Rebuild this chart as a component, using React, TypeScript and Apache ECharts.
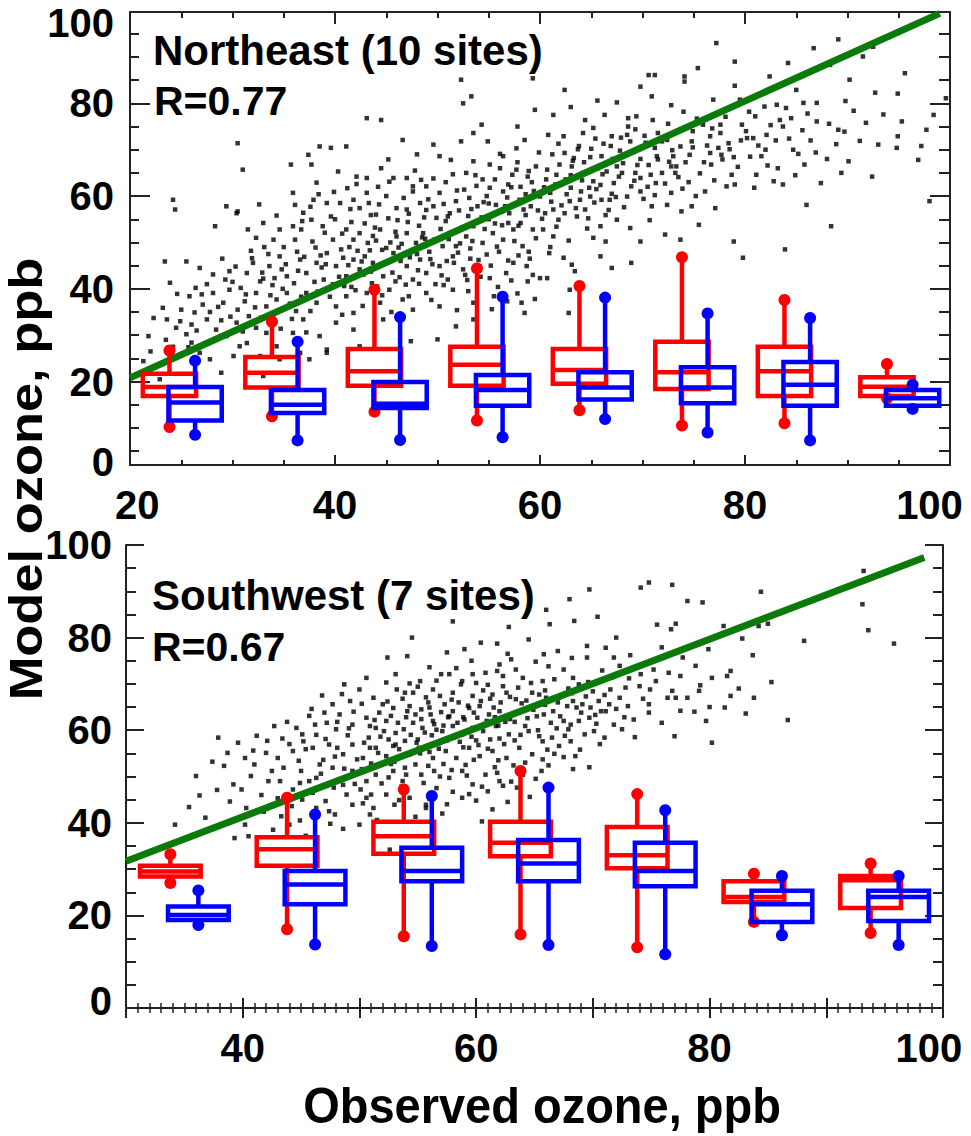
import React, { useEffect, useRef } from "react";
import * as echarts from "echarts";

// ---------- DATA ----------
// Northeast panel: scatter of (observed, model) ozone, ppb
const NE_POINTS: number[][] = [
  [52.3,85.1],[53.3,81.5],[52.5,80.0],[59.3,85.4],[59.5,78.6],
  [43.1,76.8],[44.5,76.4],[54.3,75.4],[53.5,73.6],[57.8,75.0],[58.5,72.1],
  [30.5,71.4],[46.6,72.1],[38.5,70.7],[39.6,70.4],[41.1,70.7],[49.6,71.1],[52.3,71.8],[54.9,71.8],[56.4,68.6],[57.7,70.3],[50.2,68.6],[51.3,67.8],
  [31.0,65.7],[35.7,66.8],[37.7,66.8],[37.4,68.9],[40.3,65.3],[42.1,64.2],[43.1,63.9],[44.5,66.0],[45.7,63.9],[47.0,63.9],[48.4,63.5],[52.8,65.0],[53.5,67.5],[55.1,66.8],[56.1,66.0],[57.7,65.7],[58.8,64.2],[59.6,66.4],[48.9,62.1],[47.6,62.1],[56.9,62.5],
  [24.2,59.2],[24.4,57.1],[29.4,57.8],[30.5,56.7],[35.9,60.7],[36.1,58.1],[37.9,59.2],[39.2,58.5],[40.5,58.5],[41.8,59.2],[42.4,57.4],[43.1,60.7],[44.0,56.0],[45.0,60.0],[46.0,57.4],[47.0,57.1],[47.6,61.0],[48.3,58.5],[49.6,57.8],[50.2,60.7],[51.2,56.3],[51.8,58.9],[53.1,59.6],[53.9,57.8],[54.8,60.0],[55.7,58.1],[56.4,61.0],[57.0,56.3],[58.0,59.2],[59.1,57.8],
  [28.3,53.5],[30.4,56.3],[33.0,54.2],[31.5,52.8],[32.3,51.0],[34.0,50.6],[34.6,52.8],[35.9,53.5],[36.7,52.8],[37.7,54.9],[38.8,53.5],[39.8,50.6],[41.1,52.8],[41.8,50.6],[42.4,52.0],[43.2,49.9],[44.4,52.8],[45.0,48.8],[46.0,51.3],[47.0,52.0],[47.9,49.9],[48.6,52.0],[49.7,50.6],[50.5,49.2],[51.2,52.0],[51.8,49.2],[52.8,51.3],[53.5,53.5],[54.4,49.9],[55.4,52.0],[56.4,50.6],[57.4,52.8],[58.3,49.2],[59.3,52.8],
  [23.4,45.9],[25.5,45.9],[23.9,41.3],[26.8,44.5],[28.1,43.1],[29.7,43.8],[31.4,43.4],[32.0,45.6],[32.7,41.6],[33.6,44.9],[34.6,47.0],[35.3,42.7],[36.6,46.3],[37.2,43.4],[38.2,45.6],[39.2,47.7],[40.1,44.9],[41.1,42.7],[41.8,46.3],[42.4,44.2],[43.7,45.6],[44.7,42.7],[45.7,47.7],[47.0,44.9],[47.6,42.0],[48.3,46.3],[48.9,43.4],[50.2,44.9],[51.0,42.0],[51.5,47.0],[52.5,44.2],[54.1,44.9],[55.1,42.3],[56.7,43.4],[57.4,45.6],[58.7,44.9],[58.8,41.6],
  [22.3,33.7],[23.2,35.9],[25.0,35.5],[25.8,38.4],[27.1,36.6],[28.1,39.1],[29.1,37.0],[29.7,39.8],[30.5,35.5],[31.2,37.3],[32.3,39.1],[33.3,36.2],[34.3,37.7],[35.3,39.1],[36.2,35.2],[37.2,39.1],[38.2,37.0],[39.2,39.8],[40.1,36.2],[41.1,38.4],[41.8,34.8],[43.1,39.1],[44.4,37.0],[45.3,39.8],[46.6,37.7],[47.6,35.5],[48.9,39.1],[50.2,36.2],[51.5,39.8],[53.5,37.0],
  [21.8,29.8],[23.6,33.4],[24.9,33.0],[26.0,32.3],[27.5,33.4],[28.4,31.2],[29.4,29.8],[30.4,32.7],[31.4,28.3],[32.3,31.6],[33.3,30.5],[34.3,27.6],[35.9,30.5],[36.9,33.4],[38.5,29.8],[39.2,26.9],[40.1,32.7],[41.8,31.2],[42.4,27.6],[44.7,33.4],[47.4,28.7],[50.0,29.1],[51.8,31.9],[53.5,33.4],
  [22.9,20.5],[26.0,28.4],[26.8,26.2],[27.8,24.8],[28.9,21.9],[30.1,25.5],[30.7,27.6],[32.7,25.5],[33.0,21.2],[34.6,24.8],[36.6,26.2],[37.5,24.8],[39.2,26.2],
  [31.8,48.2],[33.5,47.5],[35.0,49.0],[36.3,48.0],[37.8,50.2],[38.6,47.2],[40.6,48.5],[42.9,47.0],[44.0,50.4],[46.4,46.0],[48.0,47.5],[49.2,48.0],[50.9,46.0],[52.0,47.8],[53.2,46.5],[54.8,47.4],[56.0,48.0],[57.9,47.2],[59.0,46.5],[29.0,46.5],
  [27.5,41.0],[30.0,41.5],[33.9,40.8],[36.0,41.2],[38.9,42.0],[40.9,40.6],[43.6,41.2],[45.9,41.6],[49.8,41.0],[52.9,41.9],[55.9,40.4],[57.8,39.0],[59.5,37.8],[55.3,35.6],[56.8,37.3],[58.5,34.8],[26.4,40.2],[24.6,38.9],
  [45.2,55.2],[48.7,55.4],[50.8,54.6],[53.0,55.7],[55.0,55.0],[56.9,54.2],[58.6,55.9],[39.6,55.6],[41.6,54.4],[43.5,55.9],[47.1,54.4],[36.9,56.4],[34.3,55.8],[32.6,58.2],[44.2,62.0],[50.8,63.0],[54.4,63.6],[58.1,62.0],[41.2,61.7],[38.2,62.9],[45.2,67.9],[48.0,69.0],
  [77.2,93.0],[79.0,89.0],[70.6,86.1],[71.2,86.1],[74.1,85.8],[74.1,84.7],[62.4,82.9],[69.8,83.6],[70.9,81.5],[82.4,85.8],[84.2,88.7],[86.7,91.9],[89.1,93.8],[88.3,88.3],[91.5,90.1],[92.5,92.2],[90.2,85.1],[92.7,82.3],[94.9,82.1],
  [76.9,80.8],[79.5,80.8],[81.9,79.3],[83.1,79.7],[85.0,82.9],[85.7,80.1],[87.0,80.1],[99.6,81.1],[98.4,77.5],[95.3,76.1],[61.3,77.5],[64.4,76.4],[66.3,77.5],[68.6,76.8],[69.4,77.2],[71.0,76.4],[74.0,78.2],[75.9,75.4],[77.6,75.4],[79.7,75.4],[83.4,76.4],[84.5,76.8],[83.7,75.0],[87.0,76.1],[89.1,74.3],[89.7,73.9],[97.7,74.3],
  [60.8,73.2],[62.3,72.9],[64.2,73.6],[65.2,74.7],[67.0,72.9],[68.5,73.2],[68.8,71.8],[71.5,73.6],[72.4,72.1],[73.7,70.7],[74.8,71.8],[76.6,72.9],[77.6,73.6],[78.4,71.4],[80.2,72.5],[80.8,72.5],[82.1,73.2],[84.7,70.0],[93.0,71.1],[94.9,72.9],[94.8,70.4],[96.9,67.8],
  [62.4,69.3],[63.3,68.2],[66.0,68.6],[67.5,66.4],[71.2,70.4],[71.4,68.6],[73.0,68.6],[73.3,66.4],[76.6,69.3],[77.7,68.9],[76.7,66.8],[78.7,64.6],[81.1,64.6],[82.8,63.2],[83.7,62.5],[89.4,65.0],[85.8,66.8],
  [60.7,65.7],[61.6,64.6],[63.1,66.4],[64.2,65.0],[65.2,63.2],[66.5,65.3],[68.0,65.0],[69.3,65.0],[69.8,63.9],[71.9,65.0],[72.8,66.4],[73.2,65.0],[76.1,61.0],[78.2,62.1],[79.0,62.5],
  [60.0,59.9],[61.0,60.7],[62.9,58.9],[63.9,59.2],[64.9,59.9],[66.0,59.2],[66.8,59.2],[68.5,59.9],[69.8,61.0],[70.9,57.8],[72.4,58.1],[72.8,60.7],[73.8,56.7],[74.8,57.8],[77.1,57.4],[86.0,58.1],[98.0,58.9],
  [60.5,56.3],[61.8,54.9],[62.4,56.3],[63.6,55.6],[64.4,57.1],[65.9,53.5],[67.5,54.9],[68.8,53.1],[69.8,50.2],[72.2,51.7],[73.7,50.6],[78.9,50.2],[79.8,46.7],[88.4,53.5],[83.9,48.5],
  [60.3,52.8],[61.3,51.3],[62.3,46.7],[63.1,45.2],[65.2,51.0],[65.9,47.0],[67.0,44.5],[68.9,45.6],[63.4,43.8],[62.9,39.8],[60.0,42.3],[60.7,42.3],[62.8,34.8],
  [61.5,62.5],[63.0,61.8],[65.5,61.5],[67.2,62.8],[70.5,62.0],[71.2,60.2],[74.5,63.0],[75.2,60.0],[61.2,69.0],[65.0,70.2],[67.8,69.8],[69.8,68.0],[70.3,71.5],[74.9,74.0],[72.5,75.6],[63.8,70.8],[66.7,57.0],[64.6,53.0],[61.0,49.0],[66.4,50.2],[70.7,54.8],[75.5,53.8],[80.5,68.5],[82.0,70.0],[86.4,72.0],[88.0,68.0],[90.6,78.4],[81.0,77.2],[79.0,83.8],[75.4,87.6],[67.5,80.2],[72.8,79.6],[65.6,80.6],[63.0,79.2],
  [30.8,40.2],[31.6,34.1],[32.9,43.5],[33.7,38.6],[34.8,44.2],[35.6,36.8],[36.4,43.9],[37.0,37.8],[38.0,41.5],[38.7,44.6],[39.5,38.3],[40.4,42.6],[41.3,45.1],[42.0,39.7],[42.8,43.1],[43.4,48.3],[44.1,40.5],[44.9,45.6],[45.6,43.5],[46.2,48.9],[46.9,40.9],[47.3,46.8],[48.1,44.0],[48.8,50.8],[49.5,45.3],[50.4,42.9],[50.7,51.4],[51.6,45.6],[52.2,49.8],[52.7,43.0],[53.4,50.3],[54.0,46.2],[54.6,52.9],[55.2,45.0],[55.8,49.1],[56.3,53.7],[56.9,46.1],[57.5,50.3],[58.1,54.2],[58.9,48.0],[59.6,50.9],[60.2,55.1],[60.9,47.7],[61.6,53.4],[62.1,58.0],[62.8,50.4],[63.5,57.4],[64.0,61.0],[64.7,55.2],[65.3,58.6],[65.9,62.4],[66.4,55.9],[67.0,60.5],[67.7,64.2],[68.2,57.6],[68.9,62.1],[69.5,66.7],[70.1,59.4],[70.8,64.6],[71.5,67.9],[72.2,62.7],[72.9,69.9],[73.5,64.1],[74.2,67.3],[74.9,70.5],[75.6,64.9],[76.3,70.9],[77.0,63.4],[77.8,67.9],[78.5,70.1],[79.3,66.3],[80.1,74.0],[80.9,61.8],[81.6,68.6],[82.5,75.3],[83.2,66.0],[84.3,72.4],[85.2,69.1],[86.1,77.8],[87.4,62.8],[88.9,71.2],[90.1,67.5],[91.8,75.8],[92.4,64.2],[95.6,86.5],[97.2,70.8],
  [38.1,48.9],[39.0,52.1],[40.0,55.0],[40.8,46.7],[41.5,57.2],[42.2,48.2],[42.9,54.1],[43.7,51.4],[44.3,58.2],[45.4,50.0],[46.1,54.8],[46.7,59.6],[47.4,48.0],[48.2,53.6],[48.9,57.0],[49.3,46.4],[49.9,55.3],[50.6,58.3],[51.1,50.7],[51.9,61.2],[52.4,53.2],[53.3,57.2],[53.8,62.2],[54.3,55.4],[55.0,58.4],[55.6,63.6],[56.2,56.6],[56.8,59.7],[57.3,64.6],[57.9,53.6],[58.6,60.4],[59.2,63.0],[59.8,56.9],[60.4,61.9],[61.1,58.8],[61.9,66.8],[62.5,63.6],[63.2,67.6],[64.1,63.4],[64.9,68.4],[65.6,66.0],[66.2,71.3],[67.1,68.0],[67.9,72.6],[68.7,69.4],[69.3,74.4],[70.2,73.0],[35.2,45.3],[36.1,50.6],[37.0,46.9],[33.1,49.0],[34.1,42.3],[31.9,46.6],[30.3,44.8],[29.3,42.0],[28.6,36.1],[27.0,38.8],[26.3,34.9],[25.5,30.2],[24.2,27.5],[22.0,26.5],[21.3,24.4],[23.5,29.0],
  [36.8,54.6],[37.6,57.7],[38.4,60.4],[39.1,45.3],[39.9,60.9],[40.7,51.9],[41.4,49.0],[42.1,62.6],[42.6,45.9],[43.3,58.5],[43.9,53.2],[44.6,48.4],[45.3,63.1],[45.9,52.3],[46.5,49.7],[47.2,56.2],[47.8,65.5],[48.5,51.1],[49.1,59.3],[49.6,63.8],[50.3,52.9],[51.0,55.6],[51.5,64.7],[52.1,56.9],[52.6,61.4],[53.2,48.7],[53.7,64.5],[54.5,58.7],[55.1,61.8],[55.6,54.1],[56.1,69.1],[56.6,57.8],[57.2,61.9],[57.8,67.3],[58.4,57.1],[58.9,65.4],[59.4,61.1],[59.9,69.4],[60.6,63.6],[61.3,57.1],[61.8,71.3],[62.6,60.4],[63.0,64.5],[63.7,70.1],[64.3,67.3],[64.8,61.8],[65.4,72.4],[66.1,64.7],[66.9,70.8],[67.4,59.8],[68.1,67.1],[68.6,75.0],[69.2,63.3],[69.9,70.6],[70.6,66.7],[71.3,62.8],[71.9,71.8],[72.6,67.4],[73.3,73.8],[73.9,61.6],[74.6,68.9],[75.3,76.7],[76.0,67.3],[76.8,74.6],[77.4,70.4],[78.1,77.1],[78.9,68.4],[79.6,72.0],[80.4,78.2],[81.3,70.9],[82.2,66.6],[83.0,72.0],[84.0,79.0],[84.9,64.5],[85.6,74.2],[86.9,69.4],[88.2,75.6],[89.8,80.5],[91.2,71.9],[93.5,77.6],
  [31.3,38.8],[32.2,36.0],[33.0,42.2],[34.0,34.5],[34.9,40.0],[35.8,33.5],[36.7,38.3],[37.6,35.2],[38.3,39.4],[39.8,41.0],[40.7,34.4],[41.6,40.4],[42.7,36.3],[43.5,43.7],[44.6,38.6],[45.5,35.0],[46.3,42.5],[47.2,38.4],[48.2,41.1],[49.4,37.6],[50.6,40.8],[51.9,35.4],[53.0,39.5],[54.2,42.6],[55.5,38.4],[57.2,41.8],[58.2,37.0],[59.3,43.0],[27.8,35.0],[28.9,33.2],[26.5,31.0],[29.8,34.0],[31.0,30.8],[32.8,33.8],[34.7,31.4],[37.2,30.6],[24.5,31.6],[25.7,27.4]
];

// Southwest panel scatter
const SW_POINTS: number[][] = [
  [60.4,78.9],[61.8,78.7],[64.5,79.6],[52.4,75.7],[54.1,76.0],[56.0,73.6],[62.0,74.2],[63.0,75.3],[63.4,73.1],[50.6,71.3],[48.7,69.9],[50.0,68.8],[52.3,70.3],[53.1,72.1],[57.0,72.1],[57.7,72.1],[58.8,70.6],[59.7,72.1],[60.8,72.4],[62.3,71.7],[64.0,71.3],
  [53.9,68.1],[54.6,68.1],[56.3,68.8],[56.9,67.4],[58.0,68.1],[58.7,69.9],[59.7,67.4],[60.4,66.3],[61.4,67.7],[62.6,68.1],[63.4,66.7],[64.8,68.1],[47.7,65.6],[49.2,66.3],[51.2,67.0],[52.0,65.6],[52.9,64.8],[54.3,65.2],[55.3,64.5],[56.1,63.4],[57.3,65.6],[58.0,64.1],[59.4,64.8],[60.3,65.2],[61.1,63.4],[62.0,64.1],[63.7,64.1],
  [45.7,63.1],[44.6,60.5],[47.2,61.6],[48.3,63.4],[49.4,61.2],[50.6,62.7],[51.4,60.5],[52.3,62.0],[53.1,59.4],[54.6,61.6],[55.4,60.5],[56.3,62.0],[57.1,59.8],[58.0,60.9],[58.8,59.1],[59.7,60.5],[60.6,59.8],[61.7,60.9],[62.8,59.1],[64.5,59.8],
  [37.9,58.4],[42.0,55.1],[44.3,55.5],[45.2,57.6],[46.0,56.2],[47.4,56.9],[48.6,54.8],[49.4,56.9],[50.3,54.0],[51.4,56.2],[52.3,54.4],[53.1,56.9],[54.3,54.8],[55.1,56.2],[56.3,54.0],[57.4,55.5],[58.3,54.0],[59.4,56.2],[60.3,54.4],[61.4,55.5],[62.6,54.0],[63.7,56.2],[64.8,54.8],
  [40.2,54.0],[36.0,50.1],[42.5,51.2],[43.5,51.9],[45.0,51.2],[46.3,49.7],[47.7,51.9],[48.3,49.3],[49.4,51.2],[50.6,49.0],[51.4,50.4],[52.9,51.2],[53.7,49.0],[55.3,50.4],[56.4,51.2],[57.7,49.7],[58.8,51.2],[59.7,48.3],[60.8,50.4],[62.0,49.0],[64.0,50.4],
  [39.2,48.3],[39.9,47.2],[40.7,50.1],[42.2,49.0],[43.2,49.0],[44.3,47.2],[45.7,49.0],[46.3,43.2],[47.4,42.5],[48.9,46.1],[49.4,43.9],[50.6,45.4],[51.2,43.2],[52.3,46.1],[53.0,43.9],[54.3,45.4],[55.7,43.9],[58.8,45.4],[61.4,42.9],
  [40.3,43.2],[36.8,41.1],[34.2,39.6],[40.2,39.6],[39.3,36.7],[40.5,37.1],[43.3,41.4],[44.0,39.6],[46.3,35.6],[47.9,41.8],[50.0,39.6],[52.6,34.2],[55.7,43.2],
  [55.0,58.0],[56.8,57.2],[58.6,57.5],[60.0,57.8],[61.2,58.0],[62.4,57.0],[63.3,61.8],[57.6,62.8],[55.9,66.0],[54.0,62.8],[52.5,58.0],[50.8,58.4],[49.0,58.9],[51.7,63.8],[53.7,66.8],[60.9,62.0],[62.1,66.0],[59.0,62.3],[56.2,58.9],[54.8,52.6],[53.0,53.2],[51.0,52.8],[57.2,52.7],[59.1,52.5],[61.6,52.0],[63.2,52.4],
  [46.9,53.6],[44.8,53.4],[48.0,60.2],[46.3,59.0],[43.4,58.2],[41.0,52.6],[38.4,52.3],[41.6,46.0],[45.1,45.0],[47.8,47.6],[50.1,47.2],[53.6,47.8],[56.6,47.5],[61.0,46.8],[63.5,47.6],[57.5,44.0],[60.0,44.8],[62.7,44.5],[48.5,67.8],[46.8,67.5],[55.2,70.6],[61.0,69.8],[64.4,62.6],[59.6,75.0],[57.5,76.8],
  [69.7,90.4],[68.0,88.3],[74.1,90.8],[74.8,91.9],[76.8,91.4],[78.1,87.9],[79.4,87.6],[84.4,89.9],[93.2,94.4],[93.1,87.2],[93.6,81.6],[95.8,78.7],[66.3,82.9],[68.4,83.6],[76.7,81.8],[77.1,83.0],[81.2,82.5],[84.2,82.5],
  [69.5,78.2],[71.1,77.8],[67.0,77.1],[65.8,76.4],[69.5,75.7],[71.8,75.7],[77.7,75.7],[83.7,76.2],[72.3,73.9],[67.5,73.1],[74.1,72.1],[75.2,73.1],[76.5,72.4],[77.5,71.7],[78.8,73.9],[80.2,71.3],[81.5,71.7],[81.8,72.8],
  [65.7,70.6],[66.7,71.0],[68.3,71.3],[68.8,69.9],[71.5,68.8],[72.8,69.2],[74.0,69.5],[74.9,68.8],[76.8,68.5],[77.1,67.0],[78.1,67.0],[79.1,68.5],[81.8,67.4],[83.8,67.0],[76.4,67.0],
  [65.4,67.7],[66.0,67.0],[67.1,67.0],[68.3,66.3],[69.1,65.6],[69.8,64.9],[70.5,66.3],[71.1,64.1],[72.3,67.0],[73.0,65.2],[74.8,65.6],[74.8,63.8],[78.7,64.0],[80.0,65.0],[79.7,62.0],[83.1,63.6],
  [65.8,63.4],[66.6,64.1],[67.5,62.0],[68.1,61.2],[68.8,62.0],[69.7,62.7],[70.7,64.1],[72.5,60.2],[65.4,58.7],[65.7,57.6],[66.1,55.8],[68.1,57.6],[69.3,59.1],[70.1,59.8],[71.0,58.4],[80.2,57.3],
  [65.7,53.7],[67.5,54.2],[68.5,54.4],[69.7,52.0],[65.6,51.2],[66.9,60.4],[67.8,65.2],[70.0,68.4],[71.6,71.4],[73.5,62.3],[66.2,73.8],[67.9,69.0],
  [44.9,48.6],[45.4,55.9],[46.6,52.6],[47.1,58.1],[47.9,54.3],[48.7,51.7],[49.1,60.4],[49.8,53.7],[50.4,57.3],[50.9,60.9],[51.6,55.1],[52.1,59.8],[52.7,63.1],[53.4,55.9],[53.8,60.2],[54.1,64.1],[54.9,57.3],[55.3,62.4],[55.7,67.1],[56.0,55.3],[56.6,60.1],[57.0,63.9],[57.5,57.8],[57.9,66.6],[58.4,61.6],[58.9,56.3],[59.3,65.3],[59.6,58.6],[60.1,62.7],[60.6,68.6],[61.0,56.0],[61.5,64.9],[61.9,61.0],[62.3,69.5],[62.9,62.4],[63.3,57.8],[63.9,65.8],[64.2,60.9],[64.7,70.2],[65.2,63.0],[65.9,68.6],[66.4,61.6],[67.0,66.0],[67.6,58.8],[68.2,68.0],[69.0,63.8],[69.6,70.4],[70.3,61.4],[71.0,67.6],[72.0,64.6],[73.1,71.2],[74.3,66.8],[75.4,70.6],[77.5,64.2],[79.2,69.7],[81.3,64.9],[82.5,69.0],[85.3,70.4],[86.7,62.2],[88.1,79.3],[85.0,83.0],[72.0,80.0],[66.0,86.0],[58.0,83.5],[54.5,80.0],
  [43.0,45.3],[44.2,43.6],[46.0,46.5],[47.1,44.7],[48.6,48.2],[49.8,50.7],[50.3,44.2],[51.9,48.5],[52.7,52.7],[53.9,51.9],[55.5,48.6],[56.9,50.0],[58.0,46.7],[59.2,50.2],[60.5,47.8],[61.8,50.8],[63.0,48.9],[64.2,53.0],[65.1,49.5],[66.2,52.4],[67.1,56.6],[68.9,55.8],[70.6,57.0],[71.8,61.2],[73.6,58.5],[75.9,61.6],[77.0,58.7],[42.7,60.9],[41.2,58.8],[39.6,57.3],[38.7,55.1],[37.4,53.2],[36.3,45.9],[35.4,43.4],[37.8,47.1],[38.9,44.6],[41.8,42.4],[42.6,38.5],[44.9,40.5],[48.6,38.7],[51.5,40.6],[54.8,41.3],[57.1,42.0],[60.5,40.3],
  [50.2,51.6],[50.9,56.2],[51.3,62.2],[51.8,58.6],[52.4,66.2],[52.9,56.6],[53.3,61.6],[53.9,57.7],[54.4,59.0],[54.8,63.4],[55.2,55.0],[55.6,59.5],[56.0,64.9],[56.4,61.3],[56.8,56.0],[57.2,61.0],[57.7,63.0],[58.1,58.4],[58.5,66.0],[58.9,62.8],[59.2,59.6],[59.8,63.8],[60.2,56.8],[60.7,61.2],[61.2,66.8],[61.6,62.8],[62.0,58.2],[62.5,61.8],[62.9,67.2],[63.4,63.6],[63.8,59.0],[64.3,66.4],[64.9,64.4],[65.3,60.0],[65.9,65.5],[66.5,58.4],[67.2,63.0],[67.9,60.2],[68.6,64.9],[69.4,67.3],[70.2,63.3],[71.4,65.6],[72.7,62.8],[53.2,68.8],[55.0,69.4],[56.6,70.7],[58.3,73.4],[60.0,70.2],[61.8,72.8],[63.6,69.2],
  [49.5,64.0],[48.1,61.8],[47.0,63.8],[46.2,61.2],[45.1,59.1],[44.0,57.0],[43.0,54.0],[42.1,57.7],[40.9,55.6],[46.7,50.6],[48.1,56.2],[49.6,48.4],[51.0,46.1],[52.5,49.8],[54.0,50.4],[55.9,52.3],[57.9,51.4],[59.8,53.6],[61.9,53.5],[63.9,51.2],[66.7,54.9],[68.3,51.6],[50.9,41.8],[47.5,39.8],[45.4,37.2],[53.4,44.9],[56.0,45.2],[59.4,46.2],[62.3,48.0],[64.6,45.6],[43.8,61.8],[45.9,64.6],[50.2,65.7],[54.3,70.1],[59.0,77.5],[62.7,76.5],[65.1,74.8],[68.2,75.6],[70.8,72.9],[73.2,76.2],[75.9,77.9],[79.9,77.5],[82.8,79.8],[75.5,82.8],[70.4,84.5],[62.8,82.3]
];

// Box-and-whisker summaries: [x, low, q1, median, q3, high]
const NE_OBS_BOXES: number[][] = [
  [23.85,10.2,16.9,18.8,21.7,26.7],
  [33.85,12.5,18.7,21.9,25.3,32.9],
  [43.85,13.5,19.1,22.2,27.0,39.8],
  [53.85,11.6,19.1,23.6,27.5,44.4],
  [63.85,13.8,19.5,22.5,27.0,40.6],
  [73.85,10.5,18.4,22.0,28.6,46.8],
  [83.85,11.0,16.9,22.2,27.5,37.6],
  [93.85,16.4,16.9,18.9,20.9,23.8]
];
const NE_MODEL_BOXES: number[][] = [
  [26.35,8.5,11.6,15.5,18.8,24.5],
  [36.35,7.3,13.2,15.0,18.2,28.6],
  [46.35,7.4,14.3,15.2,19.9,33.9],
  [56.35,8.0,14.8,18.2,21.4,38.3],
  [66.35,11.9,16.1,18.7,22.0,38.1],
  [76.35,9.0,15.3,18.7,23.1,34.7],
  [86.35,7.3,14.8,19.3,24.2,33.7],
  [96.35,14.1,14.8,16.4,18.2,19.3]
];
const SW_OBS_BOXES: number[][] = [
  [33.8,27.0,28.4,29.5,30.7,33.2],
  [43.8,17.0,30.7,34.3,36.9,45.4],
  [53.8,15.5,33.3,37.1,40.2,47.2],
  [63.8,15.9,32.8,35.7,40.2,51.2],
  [73.8,13.1,30.2,33.0,39.1,46.2],
  [83.8,18.6,22.9,24.0,27.4,29.0],
  [93.8,16.2,21.6,27.6,28.5,31.2]
];
const SW_MODEL_BOXES: number[][] = [
  [36.2,17.9,19.0,20.1,21.9,25.4],
  [46.2,13.7,22.4,26.7,29.6,41.8],
  [56.2,13.4,27.4,29.6,34.6,45.8],
  [66.2,13.6,27.4,31.2,36.3,47.6],
  [76.2,11.6,26.3,29.6,35.7,42.7],
  [86.2,15.7,18.6,22.4,25.3,28.5],
  [96.2,13.6,18.8,24.0,25.3,28.5]
];

// Reference lines
const NE_LINE: number[][] = [[20, 20.8], [99.0, 99.4]];
const SW_LINE: number[][] = [[30, 31.7], [98.4, 97.3]];

// Tick labels
const NE_X_LABELS = [20, 40, 60, 80, 100];
const NE_Y_LABELS = [0, 20, 40, 60, 80, 100];
const SW_X_LABELS = [40, 60, 80, 100];
const SW_Y_LABELS = [0, 20, 40, 60, 80, 100];

const PANEL_TEXT = [
  { title: "Northeast (10 sites)", r: "R=0.77" },
  { title: "Southwest (7 sites)", r: "R=0.67" }
];

// ---------- STYLE ----------
const FONT = '"Liberation Sans", Arial, Helvetica, sans-serif';
const AXIS_COLOR = "#222";
const RED = "#ff0000";
const BLUE = "#0000ff";
const GREEN = "#0b7a0b";
const BOX_W = 5.2; // box width in data units

const labelStyle = {
  fontSize: 40,
  fontWeight: "bold" as const,
  fontFamily: FONT,
  color: "#000"
};
const snap20 = (v: number) => String(Math.round(v / 20) * 20);

function boxRenderer(color: string) {
  return (_params: any, api: any) => {
    const x = api.value(0);
    const lo = api.value(1), q1 = api.value(2), med = api.value(3), q3 = api.value(4), hi = api.value(5);
    const tl = api.coord([x - BOX_W / 2, q3]);
    const br = api.coord([x + BOX_W / 2, q1]);
    const ml = api.coord([x - BOX_W / 2, med]);
    const mr = api.coord([x + BOX_W / 2, med]);
    const pHi = api.coord([x, hi]);
    const pLo = api.coord([x, lo]);
    const pQ3 = api.coord([x, q3]);
    const pQ1 = api.coord([x, q1]);
    const stroke = { stroke: color, lineWidth: 4.5, fill: "none" };
    return {
      type: "group",
      children: [
        { type: "line", shape: { x1: pHi[0], y1: pHi[1], x2: pQ3[0], y2: pQ3[1] }, style: stroke },
        { type: "line", shape: { x1: pQ1[0], y1: pQ1[1], x2: pLo[0], y2: pLo[1] }, style: stroke },
        { type: "rect", shape: { x: tl[0], y: tl[1], width: br[0] - tl[0], height: br[1] - tl[1] }, style: stroke },
        { type: "line", shape: { x1: ml[0], y1: ml[1], x2: mr[0], y2: mr[1] }, style: stroke },
        { type: "circle", shape: { cx: pHi[0], cy: pHi[1], r: 6 }, style: { fill: color } },
        { type: "circle", shape: { cx: pLo[0], cy: pLo[1], r: 6 }, style: { fill: color } }
      ]
    };
  };
}

function steps(from: number, to: number, step: number, skipEvery: number) {
  const out: number[] = [];
  for (let i = 0; from + i * step <= to + 1e-9; i++) {
    const v = Math.round((from + i * step) * 100) / 100;
    if (Math.abs(v / skipEvery - Math.round(v / skipEvery)) > 1e-6) out.push(v);
  }
  return out;
}

function buildOption() {
  const lineAx = { show: true, lineStyle: { color: AXIS_COLOR, width: 2 } };
  const tickLine = { color: AXIS_COLOR, width: 2 };
  const thinTick = { color: AXIS_COLOR, width: 1.5 };
  const hidden = { show: false };

  const neYMajor = NE_Y_LABELS.filter((v) => v > 0 && v < 100);
  const neYMinor = steps(5, 95, 5, 20);
  const neXMinor = steps(25, 95, 5, 20);
  const swXMinor = steps(31, 99, 1, 10);
  const swYMinor = steps(5, 95, 5, 20);

  const neXLabelPos = NE_X_LABELS.map((v) => (v === 20 ? 20.7 : v === 100 ? 98 : v));
  const neYLabelPos = NE_Y_LABELS.map((v) => (v === 0 ? 2.7 : v === 100 ? 97.4 : v));
  const swXLabelPos = SW_X_LABELS.map((v) => (v === 100 ? 98.8 : v));
  const swYLabelPos = SW_Y_LABELS.map((v) => (v === 0 ? 1.6 : v));

  const neX = { gridIndex: 0, type: "value", min: 20, max: 100 };
  const swX = { gridIndex: 1, type: "value", min: 30, max: 100 };
  const neY = { gridIndex: 0, type: "value", min: 2, max: 99.7 };
  const swY = { gridIndex: 1, type: "value", min: 0, max: 100 };

  const tickAxis = (base: any, position: string, values: number[], length: number, style: any) => ({
    ...base,
    position,
    axisLine: hidden,
    axisTick: { show: true, inside: true, length, customValues: values, lineStyle: style },
    axisLabel: hidden,
    splitLine: hidden
  });

  return {
    animation: false,
    backgroundColor: "#fff",
    grid: [
      { left: 130, top: 12, width: 820, height: 453 },
      { left: 126, top: 545, width: 817, height: 463 }
    ],
    xAxis: [
      {
        ...neX, position: "bottom", interval: 20,
        axisLine: lineAx,
        axisTick: { show: true, inside: true, length: 10, lineStyle: tickLine },
        axisLabel: { ...labelStyle, margin: 20, customValues: neXLabelPos, formatter: snap20 },
        splitLine: hidden
      },
      {
        ...neX, position: "top", interval: 20,
        axisLine: lineAx,
        axisTick: { show: true, inside: true, length: 12, lineStyle: tickLine },
        axisLabel: hidden,
        splitLine: hidden
      },
      {
        ...swX, position: "bottom", interval: 10,
        axisLine: lineAx,
        axisTick: { show: true, inside: true, length: 10, lineStyle: tickLine },
        axisLabel: { ...labelStyle, margin: 20, customValues: swXLabelPos, formatter: snap20 },
        splitLine: hidden
      },
      {
        ...swX, position: "top", interval: 10,
        axisLine: lineAx,
        axisTick: { show: true, inside: true, length: 10, lineStyle: tickLine },
        axisLabel: hidden,
        splitLine: hidden
      },
      tickAxis(neX, "bottom", neXMinor, 5, tickLine),
      tickAxis(neX, "top", neXMinor, 6, tickLine),
      tickAxis(swX, "bottom", swXMinor, 5, thinTick),
      tickAxis(swX, "top", swXMinor, 5, thinTick)
    ],
    yAxis: [
      {
        ...neY, position: "left",
        axisLine: lineAx,
        axisTick: { show: true, inside: true, length: 20, customValues: neYMajor, lineStyle: tickLine },
        axisLabel: { ...labelStyle, margin: 16, customValues: neYLabelPos, formatter: snap20 },
        splitLine: hidden
      },
      tickAxis(neY, "left", neYMinor, 9, tickLine),
      {
        ...neY, position: "right",
        axisLine: lineAx,
        axisTick: { show: true, inside: true, length: 20, customValues: neYMajor, lineStyle: tickLine },
        axisLabel: hidden,
        splitLine: hidden
      },
      tickAxis(neY, "right", neYMinor, 11, tickLine),
      {
        ...swY, position: "left", interval: 20,
        axisLine: lineAx,
        axisTick: { show: true, inside: true, length: 18, lineStyle: tickLine },
        axisLabel: { ...labelStyle, margin: 14, customValues: swYLabelPos, formatter: snap20 },
        splitLine: hidden
      },
      {
        ...swY, position: "right", interval: 20,
        axisLine: lineAx,
        axisTick: { show: true, inside: true, length: 18, lineStyle: tickLine },
        axisLabel: hidden,
        splitLine: hidden
      },
      tickAxis(swY, "left", swYMinor, 10, tickLine),
      tickAxis(swY, "right", swYMinor, 10, tickLine)
    ],
    series: [
      {
        type: "scatter", xAxisIndex: 0, yAxisIndex: 0, data: NE_POINTS,
        symbol: "rect", symbolSize: 4.5, itemStyle: { color: "#000" }, silent: true, z: 1
      },
      {
        type: "scatter", xAxisIndex: 2, yAxisIndex: 4, data: SW_POINTS,
        symbol: "rect", symbolSize: 4.5, itemStyle: { color: "#000" }, silent: true, z: 1
      },
      {
        type: "line", xAxisIndex: 0, yAxisIndex: 0, data: NE_LINE, showSymbol: false, symbol: "none",
        lineStyle: { color: GREEN, width: 7 }, silent: true, z: 2
      },
      {
        type: "line", xAxisIndex: 2, yAxisIndex: 4, data: SW_LINE, showSymbol: false, symbol: "none",
        lineStyle: { color: GREEN, width: 7 }, silent: true, z: 2
      },
      {
        type: "custom", xAxisIndex: 0, yAxisIndex: 0, data: NE_OBS_BOXES, renderItem: boxRenderer(RED),
        encode: { x: 0, y: [1, 2, 3, 4, 5] }, silent: true, z: 3, clip: false
      },
      {
        type: "custom", xAxisIndex: 0, yAxisIndex: 0, data: NE_MODEL_BOXES, renderItem: boxRenderer(BLUE),
        encode: { x: 0, y: [1, 2, 3, 4, 5] }, silent: true, z: 4, clip: false
      },
      {
        type: "custom", xAxisIndex: 2, yAxisIndex: 4, data: SW_OBS_BOXES, renderItem: boxRenderer(RED),
        encode: { x: 0, y: [1, 2, 3, 4, 5] }, silent: true, z: 3, clip: false
      },
      {
        type: "custom", xAxisIndex: 2, yAxisIndex: 4, data: SW_MODEL_BOXES, renderItem: boxRenderer(BLUE),
        encode: { x: 0, y: [1, 2, 3, 4, 5] }, silent: true, z: 4, clip: false
      }
    ],
    graphic: [
      {
        type: "text", x: 153, y: 50, z: 10,
        style: { text: PANEL_TEXT[0].title, font: `bold 42px ${FONT}`, fill: "#000", align: "left", verticalAlign: "middle", textAlign: "left", textVerticalAlign: "middle" }
      },
      {
        type: "text", x: 154, y: 101, z: 10,
        style: { text: PANEL_TEXT[0].r, font: `bold 41px ${FONT}`, fill: "#000", align: "left", verticalAlign: "middle", textAlign: "left", textVerticalAlign: "middle" }
      },
      {
        type: "text", x: 152, y: 595, z: 10,
        style: { text: PANEL_TEXT[1].title, font: `bold 42px ${FONT}`, fill: "#000", align: "left", verticalAlign: "middle", textAlign: "left", textVerticalAlign: "middle" }
      },
      {
        type: "text", x: 152, y: 647, z: 10,
        style: { text: PANEL_TEXT[1].r, font: `bold 41px ${FONT}`, fill: "#000", align: "left", verticalAlign: "middle", textAlign: "left", textVerticalAlign: "middle" }
      },
      {
        type: "text", x: 26, y: 479, rotation: Math.PI / 2, scaleX: 1.14, z: 10,
        style: { text: "Model ozone, ppb", font: `bold 46px ${FONT}`, fill: "#000", align: "center", verticalAlign: "middle", textAlign: "center", textVerticalAlign: "middle" }
      },
      {
        type: "text", x: 542, y: 1106, scaleY: 1.05, z: 10,
        style: { text: "Observed ozone, ppb", font: `bold 47px ${FONT}`, fill: "#000", align: "center", verticalAlign: "middle", textAlign: "center", textVerticalAlign: "middle" }
      }
    ]
  };
}

export default function App() {
  const ref = useRef<HTMLDivElement>(null);
  useEffect(() => {
    if (!ref.current) return;
    const chart = echarts.init(ref.current, null, { renderer: "svg" });
    chart.setOption(buildOption() as any);
    return () => chart.dispose();
  }, []);
  return (
    <div
      ref={ref}
      style={{ position: "fixed", left: 0, top: 0, width: 971, height: 1136, background: "#fff" }}
    />
  );
}
